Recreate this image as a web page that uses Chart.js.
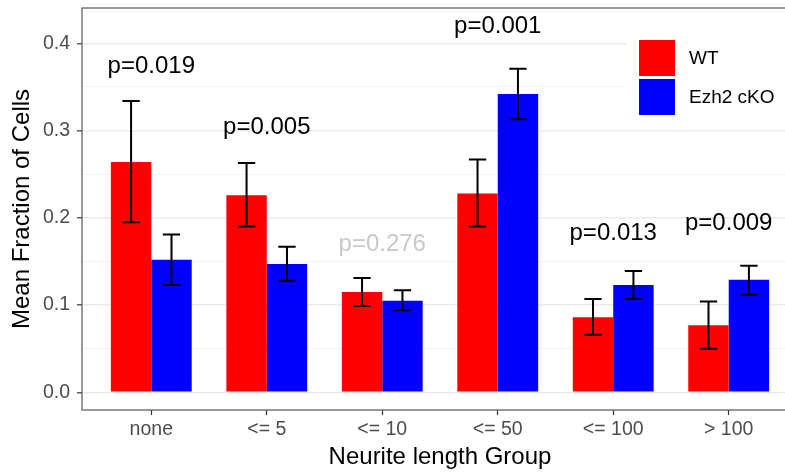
<!DOCTYPE html>
<html>
<head>
<meta charset="utf-8">
<script src="https://cdn.jsdelivr.net/npm/chart.js@4"></script>
<style>
  html, body { margin: 0; padding: 0; background: #ffffff; overflow: hidden; }
  #wrap { position: relative; width: 798px; height: 473px; }
</style>
</head>
<body>
<div id="wrap"><canvas id="c"></canvas></div>
<script>
// ---- data ----
const categories = ['none', '<= 5', '<= 10', '<= 50', '<= 100', '> 100'];
const seriesNames = ['WT', 'Ezh2 cKO'];
const wtMean  = [0.264, 0.226, 0.115, 0.228, 0.086, 0.077];
const koMean  = [0.152, 0.147, 0.105, 0.342, 0.123, 0.129];
const wtLow   = [0.195, 0.190, 0.099, 0.190, 0.066, 0.050];
const wtHigh  = [0.334, 0.263, 0.131, 0.267, 0.107, 0.104];
const koLow   = [0.123, 0.128, 0.094, 0.313, 0.107, 0.112];
const koHigh  = [0.181, 0.167, 0.117, 0.371, 0.139, 0.145];
const pLabels = ['p=0.019', 'p=0.005', 'p=0.276', 'p=0.001', 'p=0.013', 'p=0.009'];
const pLabelY = [0.3736, 0.3035, 0.1697, 0.419, 0.1822, 0.1937];
const pSignificant = [true, true, false, true, true, true];
const yMajorTicks = [0, 0.1, 0.2, 0.3, 0.4];
const yMinorTicks = [0.05, 0.15, 0.25, 0.35];

// ---- styles ----
const FONT = "'Liberation Sans', Arial, sans-serif";
const colors = ['#ff0000', '#0000ff'];
const errLow = [wtLow, koLow];
const errHigh = [wtHigh, koHigh];

const overlay = {
  id: 'overlay',
  afterDatasetsDraw(chart) {
    const { ctx, chartArea: a, scales: { x, y } } = chart;
    ctx.save();
    // error bars
    const capHalf = (x.getPixelForValue(1.075) - x.getPixelForValue(1));
    chart.data.datasets.forEach((ds, di) => {
      const meta = chart.getDatasetMeta(di);
      meta.data.forEach((bar, i) => {
        const cx = bar.x;
        const yl = y.getPixelForValue(errLow[di][i]);
        const yh = y.getPixelForValue(errHigh[di][i]);
        ctx.strokeStyle = '#000000';
        ctx.lineWidth = 2;
        ctx.beginPath();
        ctx.moveTo(cx, yl); ctx.lineTo(cx, yh);
        ctx.moveTo(cx - capHalf, yl); ctx.lineTo(cx + capHalf, yl);
        ctx.moveTo(cx - capHalf, yh); ctx.lineTo(cx + capHalf, yh);
        ctx.stroke();
      });
    });
    // p-value labels
    ctx.font = '24px ' + FONT;
    ctx.textAlign = 'center';
    ctx.textBaseline = 'middle';
    pLabels.forEach((t, i) => {
      ctx.fillStyle = pSignificant[i] ? '#000000' : '#c8c8c8';
      ctx.fillText(t, x.getPixelForValue(i + 1), y.getPixelForValue(pLabelY[i]));
    });
    // legend (inside panel)
    ctx.fillStyle = '#ffffff';
    ctx.fillRect(626, 29, a.right - 626, 98);
    const boxX = 639, boxW = 36, boxH = 36, boxY = [40, 79];
    ctx.font = '19px ' + FONT;
    ctx.textAlign = 'left';
    ctx.textBaseline = 'middle';
    seriesNames.forEach((n, i) => {
      ctx.fillStyle = colors[i];
      ctx.fillRect(boxX, boxY[i], boxW, boxH);
      ctx.fillStyle = '#000000';
      ctx.fillText(n, 689, boxY[i] + boxH / 2 + 1);
    });
    // panel border
    ctx.strokeStyle = '#555555';
    ctx.lineWidth = 1.2;
    ctx.strokeRect(a.left, a.top, a.right - a.left, a.bottom - a.top);
    ctx.restore();
  }
};

new Chart(document.getElementById('c'), {
  type: 'bar',
  data: {
    datasets: [
      { label: seriesNames[0], data: wtMean.map((v, i) => ({ x: i + 1, y: v })), backgroundColor: colors[0], borderWidth: 0 },
      { label: seriesNames[1], data: koMean.map((v, i) => ({ x: i + 1, y: v })), backgroundColor: colors[1], borderWidth: 0 }
    ]
  },
  options: {
    responsive: true,
    maintainAspectRatio: false,
    animation: false,
    devicePixelRatio: 1,
    categoryPercentage: 0.7,
    barPercentage: 1.0,
    layout: { padding: { top: 8, left: 0, right: 0, bottom: 0 } },
    plugins: { legend: { display: false }, tooltip: { enabled: false } },
    scales: {
      x: {
        type: 'linear',
        min: 0.4,
        max: 6.6,
        offset: false,
        afterBuildTicks: (s) => { s.ticks = categories.map((c, i) => ({ value: i + 1 })); },
        afterFit: (s) => { s.height = 63; s.paddingLeft = 0; s.paddingRight = 0; },
        ticks: {
          autoSkip: false,
          maxRotation: 0,
          padding: 3,
          color: '#4d4d4d',
          font: { family: FONT, size: 19.5 },
          callback: (v) => categories[Math.round(v) - 1]
        },
        grid: { offset: false, drawOnChartArea: false, drawTicks: true, tickLength: 5, tickColor: '#333333', tickWidth: 1.2 },
        border: { display: false },
        title: { display: true, text: 'Neurite length Group', color: '#000000', font: { family: FONT, size: 24 }, padding: { top: 0, bottom: 1 } }
      },
      y: {
        type: 'linear',
        min: -0.0202,
        max: 0.4405,
        afterBuildTicks: (s) => {
          s.ticks = yMajorTicks.concat(yMinorTicks).sort((a, b) => a - b).map(v => ({ value: v }));
        },
        afterFit: (s) => { s.width = 82; s.paddingTop = 0; s.paddingBottom = 0; },
        ticks: {
          padding: 7,
          color: '#4d4d4d',
          font: { family: FONT, size: 19.5 },
          callback: (v) => yMajorTicks.some(m => Math.abs(m - v) < 1e-9) ? v.toFixed(1) : ''
        },
        grid: {
          drawTicks: true,
          tickLength: 5,
          color: (c) => yMajorTicks.some(m => Math.abs(m - c.tick.value) < 1e-9) ? '#ebebeb' : '#f2f2f2',
          lineWidth: (c) => yMajorTicks.some(m => Math.abs(m - c.tick.value) < 1e-9) ? 1.6 : 0.9,
          tickColor: (c) => yMajorTicks.some(m => Math.abs(m - c.tick.value) < 1e-9) ? '#333333' : 'rgba(0,0,0,0)',
          tickWidth: 1.2
        },
        border: { display: false },
        title: { display: true, text: 'Mean Fraction of Cells', color: '#000000', font: { family: FONT, size: 24 }, padding: { top: 8, bottom: 0 } }
      }
    }
  },
  plugins: [overlay]
});
</script>
</body>
</html>
